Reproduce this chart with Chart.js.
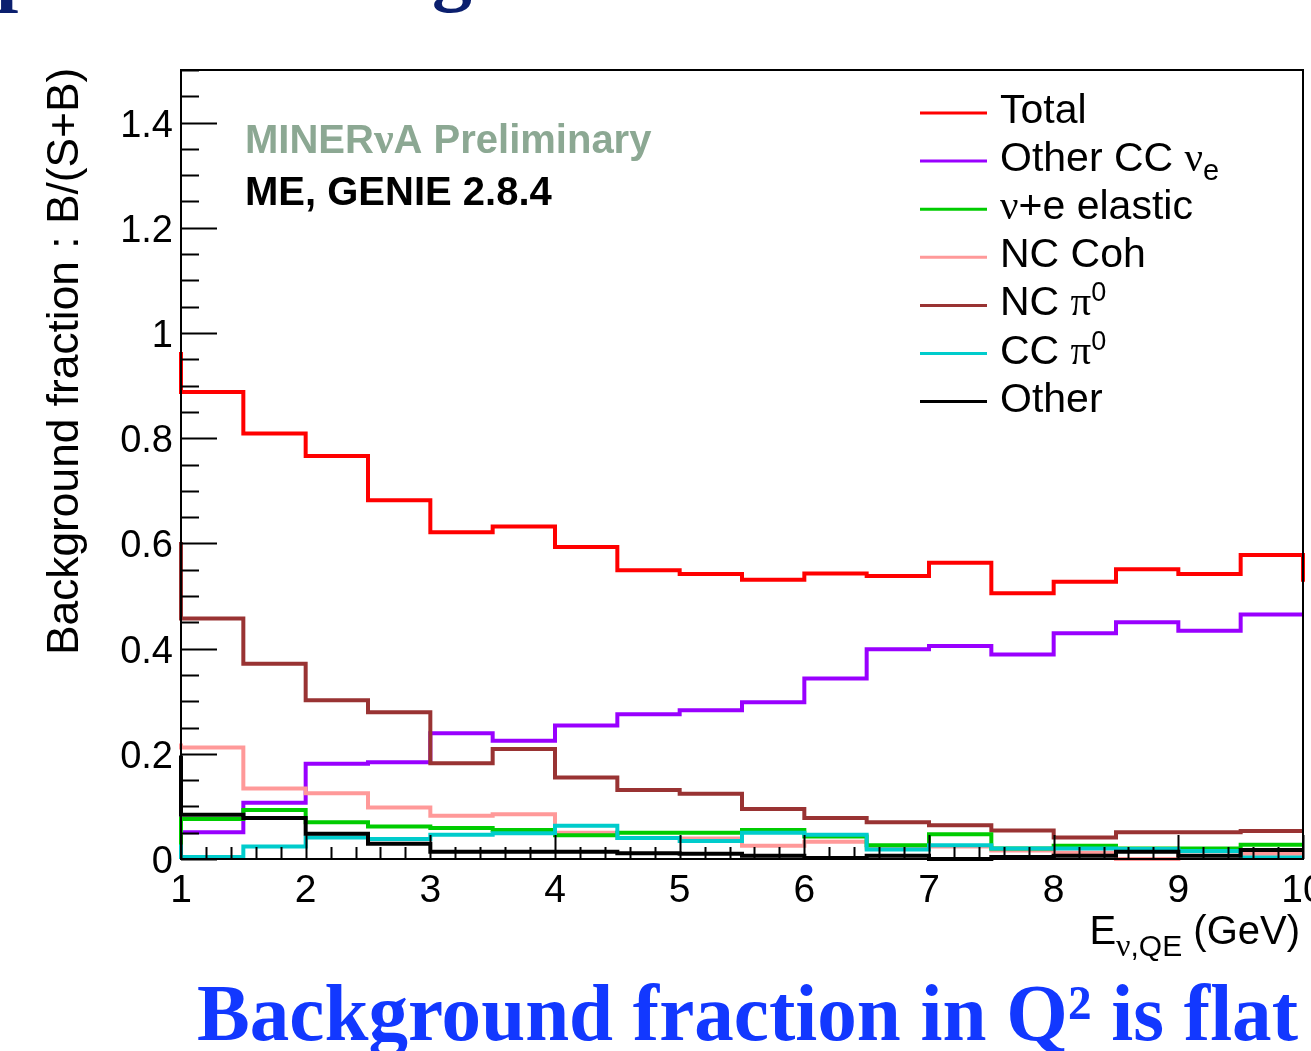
<!DOCTYPE html>
<html>
<head>
<meta charset="utf-8">
<script src="https://cdn.jsdelivr.net/npm/chart.js@4.4.1/dist/chart.umd.min.js"></script>
<style>
  html, body { margin: 0; padding: 0; background: #fff; }
  canvas { display: block; }
</style>
</head>
<body>
<canvas id="c" width="1311" height="1051"></canvas>
<script>
// bin edges incl. one bin below 1 GeV and one above 10 GeV (clipped by the frame)
const binEdges = [0.5, 1, 1.5, 2, 2.5, 3, 3.5, 4, 4.5, 5, 5.5, 6, 6.5, 7, 7.5, 8, 8.5, 9, 9.5, 10, 10.5];

const total   = [0.960, 0.888, 0.809, 0.766, 0.682, 0.621, 0.632, 0.593, 0.549, 0.542, 0.531, 0.543, 0.538, 0.563, 0.505, 0.527, 0.551, 0.542, 0.578, 0.527];
const otherCC = [0.051, 0.051, 0.107, 0.181, 0.184, 0.239, 0.225, 0.254, 0.275, 0.283, 0.298, 0.343, 0.399, 0.405, 0.389, 0.429, 0.450, 0.434, 0.465, 0.465];
const nuE     = [0.030, 0.076, 0.093, 0.070, 0.062, 0.059, 0.055, 0.045, 0.050, 0.050, 0.055, 0.043, 0.026, 0.047, 0.020, 0.025, 0.020, 0.020, 0.027, 0.027];
const ncCoh   = [0.216, 0.212, 0.134, 0.125, 0.098, 0.082, 0.085, 0.050, 0.040, 0.039, 0.025, 0.033, 0.022, 0.024, 0.016, 0.012, 0.000, 0.016, 0.010, 0.010];
const ncPi0   = [0.599, 0.457, 0.371, 0.302, 0.279, 0.182, 0.209, 0.155, 0.131, 0.124, 0.095, 0.078, 0.070, 0.064, 0.054, 0.041, 0.051, 0.051, 0.053, 0.053];
const ccPi0   = [0.024, 0.004, 0.024, 0.041, 0.038, 0.046, 0.049, 0.063, 0.040, 0.034, 0.050, 0.046, 0.018, 0.026, 0.020, 0.020, 0.019, 0.015, 0.003, 0.003];
const other   = [0.193, 0.084, 0.078, 0.048, 0.029, 0.014, 0.014, 0.014, 0.011, 0.010, 0.006, 0.002, 0.006, 0.000, 0.004, 0.006, 0.014, 0.006, 0.017, 0.017];

const yTicks = [0, 0.2, 0.4, 0.6, 0.8, 1, 1.2, 1.4];
const yTickLabels = ['0', '0.2', '0.4', '0.6', '0.8', '1', '1.2', '1.4'];
const xTicks = [1, 2, 3, 4, 5, 6, 7, 8, 9, 10];
const xTickLabels = ['1', '2', '3', '4', '5', '6', '7', '8', '9', '10'];

const SANS = '"Liberation Sans", Arial, Helvetica, sans-serif';
const SERIF = '"Liberation Serif", "Times New Roman", serif';

// histogram -> step points (value i holds from edge i to edge i+1)
function steps(vals) {
  return binEdges.map((x, i) => ({ x: x, y: vals[Math.min(i, vals.length - 1)] }));
}

function hist(label, vals, color, order) {
  return {
    label: label,
    data: steps(vals),
    borderColor: color,
    backgroundColor: color,
    borderWidth: 4,
    stepped: 'before',
    pointRadius: 0,
    fill: false,
    order: order,
    clip: { left: 2, right: 2, top: 2, bottom: 2 },
  };
}

const datasets = [
  hist('Total', total, '#ff0000', 0),
  hist('Other CC νe', otherCC, '#9900ff', 6),
  hist('ν+e elastic', nuE, '#00cc00', 3),
  hist('NC Coh', ncCoh, '#ff9999', 5),
  hist('NC π0', ncPi0, '#993333', 4),
  hist('CC π0', ccPi0, '#00cccc', 2),
  hist('Other', other, '#000000', 1),
];

// legend text pieces (greek letters in a serif face like ROOT's symbol font)
const legendRows = [
  [{ t: 'Total' }],
  [{ t: 'Other CC ' }, { t: 'ν', serif: true }, { t: 'e', size: 29, dy: 9 }],
  [{ t: 'ν', serif: true }, { t: '+e elastic' }],
  [{ t: 'NC Coh' }],
  [{ t: 'NC ' }, { t: 'π', serif: true }, { t: '0', size: 27, dy: -14 }],
  [{ t: 'CC ' }, { t: 'π', serif: true }, { t: '0', size: 27, dy: -14 }],
  [{ t: 'Other' }],
];

function drawRich(ctx, x, y, segs, baseSize, measureOnly) {
  let cx = x;
  segs.forEach(s => {
    const size = s.size || baseSize;
    ctx.font = size + 'px ' + (s.serif ? SERIF : SANS);
    if (!measureOnly) ctx.fillText(s.t, cx, y + (s.dy || 0));
    cx += ctx.measureText(s.t).width;
  });
  return cx - x;
}

const rootStyle = {
  id: 'rootStyle',
  beforeDraw(chart) {
    const ctx = chart.ctx;
    ctx.save();
    ctx.fillStyle = '#fff';
    ctx.fillRect(0, 0, chart.width, chart.height);
    ctx.restore();
  },
  afterDatasetsDraw(chart) {
    const { ctx, chartArea: a, scales: { x, y } } = chart;
    ctx.save();
    ctx.strokeStyle = '#000';
    ctx.lineWidth = 2;
    ctx.strokeRect(a.left, a.top, a.right - a.left, a.bottom - a.top);

    // y ticks, drawn inside the frame
    ctx.beginPath();
    for (let k = 0; k <= 30; k++) {
      const py = Math.round(y.getPixelForValue(k * 0.05)) + 0.5;
      ctx.moveTo(a.left, py);
      ctx.lineTo(a.left + (k % 4 === 0 ? 36 : 18), py);
    }
    // x ticks
    for (let k = 0; k <= 45; k++) {
      const px = Math.round(x.getPixelForValue(1 + k * 0.2)) + 0.5;
      ctx.moveTo(px, a.bottom);
      ctx.lineTo(px, a.bottom - (k % 5 === 0 ? 24 : 12));
    }
    ctx.stroke();

    ctx.fillStyle = '#000';
    ctx.font = '38px ' + SANS;
    ctx.textAlign = 'right';
    ctx.textBaseline = 'alphabetic';
    yTicks.forEach((v, i) => {
      ctx.fillText(yTickLabels[i], a.left - 8, y.getPixelForValue(v) + 14);
    });
    ctx.font = '39px ' + SANS;
    ctx.textAlign = 'center';
    xTicks.forEach((v, i) => {
      ctx.fillText(xTickLabels[i], x.getPixelForValue(v), a.bottom + 43);
    });

    // y title, fitted to its length in the picture
    ctx.save();
    ctx.translate(78, 655);
    ctx.rotate(-Math.PI / 2);
    ctx.textAlign = 'left';
    const yTitle = 'Background fraction : B/(S+B)';
    ctx.font = '40px ' + SANS;
    const w = ctx.measureText(yTitle).width;
    ctx.font = (40 * 587 / w).toFixed(1) + 'px ' + SANS;
    ctx.fillText(yTitle, 0, 0);
    ctx.restore();

    // x title, right aligned
    ctx.textAlign = 'left';
    const xTitle = [{ t: 'E' }, { t: 'ν', serif: true, size: 32, dy: 12 }, { t: ',QE', size: 30, dy: 12 }, { t: ' (GeV)' }];
    const tw = drawRich(ctx, 0, 0, xTitle, 40, true);
    drawRich(ctx, 1300 - tw, 944, xTitle, 40, false);

    // plot labels
    ctx.font = 'bold 40px ' + SANS;
    ctx.fillStyle = '#8ca893';
    let mx = 245;
    ctx.fillText('MINER', mx, 153);
    mx += ctx.measureText('MINER').width;
    ctx.font = 'bold 44px ' + SERIF;
    ctx.fillText('ν', mx, 153);
    mx += ctx.measureText('ν').width;
    ctx.font = 'bold 40px ' + SANS;
    ctx.fillText('A Preliminary', mx, 153);
    ctx.fillStyle = '#000';
    ctx.fillText('ME, GENIE 2.8.4', 245, 205);

    // legend
    datasets.forEach((ds, i) => {
      const ly = 113 + i * 48.1;
      ctx.strokeStyle = ds.borderColor;
      ctx.lineWidth = 3;
      ctx.beginPath();
      ctx.moveTo(920, ly);
      ctx.lineTo(987, ly);
      ctx.stroke();
      ctx.fillStyle = '#000';
      drawRich(ctx, 1000, ly + 10, legendRows[i], 41, false);
    });

    // slide text around the plot
    ctx.fillStyle = '#0b1f6e';
    ctx.font = 'bold 80px ' + SERIF;
    ctx.fillText('p', -4, -4);
    ctx.fillText('g', 432, -4);

    const caption = 'Background fraction in Q² is flat';
    ctx.font = 'bold 80px ' + SERIF;
    const cw = ctx.measureText(caption).width;
    ctx.save();
    ctx.translate(197, 1040);
    ctx.scale(1101 / cw, 1);
    ctx.fillStyle = '#1238ff';
    ctx.fillText(caption, 0, 0);
    ctx.restore();

    ctx.restore();
  },
};

new Chart(document.getElementById('c'), {
  type: 'line',
  data: { datasets: datasets },
  options: {
    responsive: false,
    animation: false,
    devicePixelRatio: 1,
    layout: { padding: { left: 181, right: 8, top: 70, bottom: 192 } },
    plugins: { legend: { display: false }, tooltip: { enabled: false }, title: { display: false } },
    scales: {
      x: { type: 'linear', min: 1, max: 10, display: false },
      y: { type: 'linear', min: 0, max: 1.5, display: false },
    },
  },
  plugins: [rootStyle],
});
</script>
</body>
</html>
